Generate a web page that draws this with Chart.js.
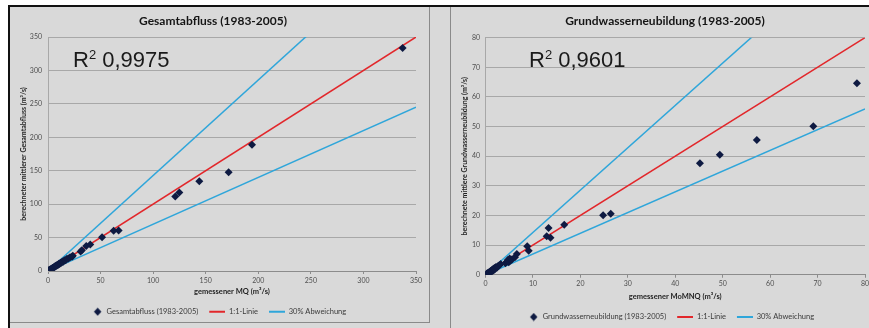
<!DOCTYPE html>
<html>
<head>
<meta charset="utf-8">
<script src="https://cdn.jsdelivr.net/npm/chart.js@4.4.1/dist/chart.umd.min.js"></script>
<style>
  body { margin: 0; background: #fff; width: 869px; height: 328px; overflow: hidden; position: relative; }
  #frame { position: absolute; left: 8px; top: 5px; width: 861px; height: 330px; background: #d9d9d9;
           border-top: 2px solid #111; border-left: 2px solid #111; box-sizing: border-box; }
  .ln { position: absolute; background: #8a8a8a; z-index: 5; }
  .box { position: absolute; }
  .r2 { position: absolute; font-family: 'Liberation Sans', Arial, sans-serif; font-size: 22px; line-height: 22px;
        color: #1a1a1a; white-space: nowrap; z-index: 6; }
  .r2 span { font-size: 13px; vertical-align: 7.5px; }
</style>
</head>
<body>
<div id="frame"></div>
<div class="ln" style="left:429px; top:7px; width:1px; height:316px;"></div>
<div class="ln" style="left:10px; top:322px; width:420px; height:1px;"></div>
<div class="ln" style="left:450px; top:7px; width:1px; height:321px;"></div>

<div class="box" style="left:10px; top:7px; width:419px; height:321px;"><canvas id="gesamtChart"></canvas></div>
<div class="box" style="left:452px; top:7px; width:417px; height:325px;"><canvas id="gwnChart"></canvas></div>

<div class="r2" style="left:73px; top:44px;">R<span>2</span> 0,9975</div>
<div class="r2" style="left:529px; top:44px;">R<span>2</span> 0,9601</div>

<script>
// Gesamtabfluss (1983-2005): gemessener MQ gegen berechneten mittleren Gesamtabfluss
const gesamtMQ = [0.2, 0.5, 0.8, 1.1, 1.4, 1.8, 2.1, 2.5, 2.9, 3.3, 3.8, 4.2, 4.7, 5.2, 5.8, 6.3, 6.9, 7.5, 8.2, 8.8,
                  9.5, 10.3, 11.0, 11.8, 12.7, 13.6, 14.5, 15.6, 16.8, 18.0, 19.5, 21.0, 22.8, 23.6, 31.0, 32.2,
                  36.4, 40.2, 51.4, 62.4, 67.2, 121.0, 124.9, 143.9, 171.8, 194.0, 337.3];
const gesamtBerechnet = [0.3, 0.4, 0.9, 1.0, 1.6, 1.7, 2.3, 2.4, 3.1, 3.0, 3.9, 4.4, 4.5, 5.4, 5.6, 6.6, 6.7, 7.9, 8.0, 9.2,
                         9.1, 10.8, 10.6, 12.3, 12.4, 14.1, 14.0, 16.2, 16.1, 18.3, 18.8, 20.6, 21.5, 22.9, 29.0, 31.2,
                         37.5, 39.6, 50.5, 60.2, 60.4, 111.4, 117.6, 134.4, 147.8, 189.0, 333.5];
const gesamtLinieX = [0, 350];
const gesamtLinie11 = [0, 350];
const gesamtOben30 = [0, 500];
const gesamtUnten30 = [0, 245];
const gesamtTicks = [0, 50, 100, 150, 200, 250, 300, 350];

// Grundwasserneubildung (1983-2005): gemessener MoMNQ gegen berechnete mittlere Grundwasserneubildung
const gwnMoMNQ = [0.1, 0.2, 0.3, 0.4, 0.5, 0.6, 0.7, 0.8, 0.9, 1.0, 1.1, 1.2, 1.3, 1.4, 1.5, 1.6, 1.7, 1.8, 1.9, 2.0,
                  2.2, 2.4, 2.6, 2.9, 3.2, 4.2, 4.5, 4.7, 4.9, 5.1, 5.3, 5.6, 6.2, 6.6, 8.8, 9.1, 12.9, 13.3, 13.7,
                  16.6, 24.8, 26.4, 45.2, 49.4, 57.2, 69.1, 78.3];
const gwnBerechnet = [0.2, 0.1, 0.4, 0.3, 0.6, 0.5, 0.8, 0.6, 1.0, 0.8, 1.3, 1.0, 1.5, 1.2, 1.8, 1.4, 2.0, 1.7, 2.3, 1.9,
                      2.6, 2.4, 2.9, 3.2, 3.6, 3.9, 4.4, 5.0, 4.2, 5.5, 4.8, 5.2, 5.9, 7.0, 9.6, 8.1, 13.0, 15.8, 12.5,
                      16.9, 20.1, 20.6, 37.6, 40.5, 45.5, 50.1, 64.6];
const gwnLinieX = [0, 80];
const gwnLinie11 = [0, 80];
const gwnOben30 = [0, 114.3];
const gwnUnten30 = [0, 56];
const gwnTicksX = [0, 10, 20, 30, 40, 50, 60, 70, 80];
const gwnTicksY = [0, 10, 20, 30, 40, 50, 60, 70, 80];

const markerColor = '#0e1a42';
const rotLinie = '#e2272b';
const blauLinie = '#2fa6da';
const fontName = 'Lato, "Open Sans", sans-serif';

function punkte(xs, ys) {
    return xs.map((x, i) => ({ x: x, y: ys[i] }));
}

// kleine Legendensymbole
function legendeRaute() {
    const c = document.createElement('canvas');
    c.width = 23; c.height = 9;
    const g = c.getContext('2d');
    g.fillStyle = markerColor;
    g.beginPath();
    g.moveTo(17.75, 0.5); g.lineTo(21.5, 4.5); g.lineTo(17.75, 8.5); g.lineTo(14, 4.5);
    g.closePath(); g.fill();
    return c;
}
function legendeLinie(farbe) {
    const c = document.createElement('canvas');
    c.width = 23; c.height = 4;
    const g = c.getContext('2d');
    g.fillStyle = farbe;
    g.fillRect(7, 1, 16, 2);
    return c;
}

function baueChart(id, cfg) {
    const ctx = document.getElementById(id).getContext('2d');
    const symbole = [legendeRaute(), legendeLinie(rotLinie), legendeLinie(blauLinie)];
    return new Chart(ctx, {
        type: 'scatter',
        data: {
            datasets: [{
                label: cfg.serie,
                data: punkte(cfg.xs, cfg.ys),
                pointStyle: 'rectRot',
                pointRadius: 4,
                backgroundColor: markerColor,
                borderColor: markerColor,
                borderWidth: 0
            }, {
                label: '1:1-Linie',
                type: 'line',
                data: punkte(cfg.linieX, cfg.linie11),
                borderColor: rotLinie,
                borderWidth: 1.5,
                pointRadius: 0
            }, {
                label: '30% Abweichung',
                type: 'line',
                data: punkte(cfg.linieX, cfg.oben),
                borderColor: blauLinie,
                borderWidth: 1.5,
                pointRadius: 0
            }, {
                label: '30% Abweichung unten',
                type: 'line',
                data: punkte(cfg.linieX, cfg.unten),
                borderColor: blauLinie,
                borderWidth: 1.5,
                pointRadius: 0
            }]
        },
        options: {
            responsive: true,
            maintainAspectRatio: false,
            animation: false,
            layout: { padding: cfg.padding },
            plugins: {
                title: {
                    display: true,
                    text: cfg.titel,
                    color: '#141414',
                    font: { family: fontName, size: 12, weight: 'bold' },
                    padding: { top: 6.8, bottom: cfg.titelAbstand }
                },
                legend: {
                    position: 'bottom',
                    labels: {
                        usePointStyle: true,
                        pointStyleWidth: 23,
                        padding: 4,
                        color: '#3a3a3a',
                        font: { family: fontName, size: 7.5 },
                        filter: item => item.datasetIndex !== 3,
                        generateLabels: chart => {
                            const items = Chart.defaults.plugins.legend.labels.generateLabels(chart);
                            items.forEach(it => { it.pointStyle = symbole[it.datasetIndex] || symbole[2]; });
                            return items;
                        }
                    }
                },
                tooltip: { enabled: false }
            },
            scales: {
                x: {
                    type: 'linear',
                    min: cfg.ticksX[0],
                    max: cfg.ticksX[cfg.ticksX.length - 1],
                    afterBuildTicks: s => { s.ticks = cfg.ticksX.map(v => ({ value: v })); },
                    afterFit: s => { s.height = cfg.xHoehe; if (cfg.clipRechts) s.paddingRight = 0; },
                    ticks: { color: '#4f4f4f', font: { family: fontName, size: 7 }, padding: cfg.xTickAbstand, maxRotation: 0 },
                    grid: { drawOnChartArea: false, tickLength: 3, color: '#8c8c8c' },
                    border: { color: '#8c8c8c' },
                    title: {
                        display: true,
                        text: cfg.xTitel,
                        color: '#1f1f1f',
                        font: { family: fontName, size: 7.5, weight: 'bold' },
                        padding: { top: 0, bottom: cfg.xTitelAbstand }
                    }
                },
                y: {
                    type: 'linear',
                    min: cfg.ticksY[0],
                    max: cfg.ticksY[cfg.ticksY.length - 1],
                    afterBuildTicks: s => { s.ticks = cfg.ticksY.map(v => ({ value: v })); },
                    afterFit: s => { s.width = cfg.yBreite; },
                    ticks: { color: '#4f4f4f', font: { family: fontName, size: 7 }, padding: cfg.yTickAbstand },
                    grid: { drawTicks: false, color: '#a8a8a8' },
                    border: { color: '#a8a8a8' },
                    title: {
                        display: true,
                        text: cfg.yTitel,
                        color: '#1f1f1f',
                        font: { family: fontName, size: 7, weight: 'bold' },
                        padding: { top: cfg.yTitelAbstand, bottom: 0 }
                    }
                }
            }
        }
    });
}

Promise.all([
    document.fonts.load('bold 12px Lato'),
    document.fonts.load('7px Lato'),
    document.fonts.load('22px "Liberation Sans"')
]).catch(() => {}).then(() => {
    // Gesamtabfluss
    baueChart('gesamtChart', {
        titel: 'Gesamtabfluss (1983-2005)',
        serie: 'Gesamtabfluss (1983-2005)',
        xs: gesamtMQ, ys: gesamtBerechnet,
        linieX: gesamtLinieX, linie11: gesamtLinie11, oben: gesamtOben30, unten: gesamtUnten30,
        ticksX: gesamtTicks, ticksY: gesamtTicks,
        xTitel: 'gemessener MQ (m³/s)',
        yTitel: 'berechneter mittlerer Gesamtabfluss (m³/s)',
        padding: { left: 0, right: 13, top: 0, bottom: 2.5 },
        titelAbstand: 8.8,
        xHoehe: 33, xTickAbstand: 2.5, xTitelAbstand: 7.8,
        yBreite: 38, yTickAbstand: 6, yTitelAbstand: 9.8,
        clipRechts: false
    });

    // Grundwasserneubildung
    baueChart('gwnChart', {
        titel: 'Grundwasserneubildung (1983-2005)',
        serie: 'Grundwasserneubildung (1983-2005)',
        xs: gwnMoMNQ, ys: gwnBerechnet,
        linieX: gwnLinieX, linie11: gwnLinie11, oben: gwnOben30, unten: gwnUnten30,
        ticksX: gwnTicksX, ticksY: gwnTicksY,
        xTitel: 'gemessener MoMNQ (m³/s)',
        yTitel: 'berechnete mittlere Grundwasserneubildung (m³/s)',
        padding: { left: 9, right: 0, top: 0, bottom: 1.25 },
        titelAbstand: 9.5,
        xHoehe: 34.5, xTickAbstand: 2.1, xTitelAbstand: 8,
        yBreite: 24.5, yTickAbstand: 5.5, yTitelAbstand: 0,
        clipRechts: true
    });
});
</script>
</body>
</html>
